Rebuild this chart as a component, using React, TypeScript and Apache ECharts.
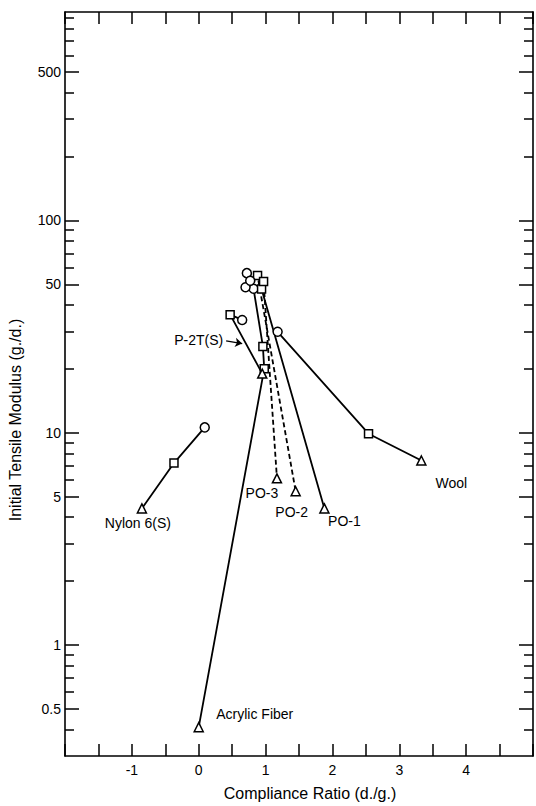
import { useEffect, useRef } from 'react';
import * as echarts from 'echarts';

// ---- data ----
const nylonX = [0.09, -0.37, -0.85];
const nylonY = [10.6, 7.2, 4.4];
const nylonMarks = ['circle', 'rect', 'triangle'];

const acrylicX = [0.82, 0.96, 0.98, 0];
const acrylicY = [47.7, 25.5, 20, 0.41];
const acrylicMarks = ['circle', 'rect', 'rect', 'triangle'];

const p2tX = [0.65, 0.47, 0.95];
const p2tY = [34, 36, 19];
const p2tMarks = ['circle', 'rect', 'triangle'];

const po1X = [0.7, 0.94, 1.88];
const po1Y = [48.5, 47.5, 4.4];
const po2X = [0.72, 0.88, 1.45];
const po2Y = [56.5, 55, 5.3];
const po3X = [0.77, 0.97, 1.17];
const po3Y = [52, 51.6, 6.1];
const poMarks = ['circle', 'rect', 'triangle'];

const woolX = [1.18, 2.54, 3.33];
const woolY = [29.9, 9.9, 7.4];
const woolMarks = ['circle', 'rect', 'triangle'];

const xTickLabels = [-1, 0, 1, 2, 3, 4];
const yTickLabels = [0.5, 1, 5, 10, 50, 100, 500];
const yMinorTicks = [0.4, 0.6, 0.7, 0.8, 0.9, 2, 3, 4, 6, 7, 8, 9, 20, 30, 40, 60, 70, 80, 90, 200, 300, 400, 600, 700, 800, 900];
const p2tArrowFrom = [0.41, 27.1];
const p2tArrowTo = [0.65, 26.3];

const X_MIN = -2;
const X_MAX = 5;
const Y_MIN = 0.3;
const Y_MAX = 960;

const FONT = 'Liberation Sans, Arial, sans-serif';

type Fiber = {
  name: string;
  xs: number[];
  ys: number[];
  marks: string[];
  dashed: boolean;
  labelIndex: number;
  labelOffset: [number, number] | null;
};

const fibers: Fiber[] = [
  { name: 'Nylon 6(S)', xs: nylonX, ys: nylonY, marks: nylonMarks, dashed: false, labelIndex: 2, labelOffset: [-4, 15] },
  { name: 'Acrylic Fiber', xs: acrylicX, ys: acrylicY, marks: acrylicMarks, dashed: false, labelIndex: 3, labelOffset: [56, -13] },
  { name: 'P-2T(S)', xs: p2tX, ys: p2tY, marks: p2tMarks, dashed: false, labelIndex: -1, labelOffset: null },
  { name: 'PO-1', xs: po1X, ys: po1Y, marks: poMarks, dashed: false, labelIndex: 2, labelOffset: [20, 13] },
  { name: 'PO-2', xs: po2X, ys: po2Y, marks: poMarks, dashed: true, labelIndex: 2, labelOffset: [-4, 21] },
  { name: 'PO-3', xs: po3X, ys: po3Y, marks: poMarks, dashed: true, labelIndex: 2, labelOffset: [-15, 15] },
  { name: 'Wool', xs: woolX, ys: woolY, marks: woolMarks, dashed: false, labelIndex: 2, labelOffset: [30, 22] },
];

const log10 = (v: number) => Math.log(v) / Math.LN10;

function buildOption(): echarts.EChartsCoreOption {
  const series: any[] = [];
  fibers.forEach((f) => {
    const line: any = {
      type: 'line',
      name: f.name + ' line',
      xAxisIndex: 0,
      yAxisIndex: 0,
      z: 2,
      showSymbol: false,
      symbol: 'none',
      silent: true,
      lineStyle: { color: '#000', width: 1.8, type: f.dashed ? [5, 3] : 'solid' },
      data: f.xs.map((x, i) => [x, f.ys[i]]),
    };
    if (f.name === 'P-2T(S)') {
      line.markLine = {
        silent: true,
        symbol: ['none', 'arrow'],
        symbolSize: 7,
        lineStyle: { color: '#000', width: 1.3, type: 'solid' },
        label: {
          show: true,
          position: 'start',
          formatter: 'P-2T(S)',
          color: '#000',
          fontSize: 14,
          fontFamily: FONT,
          distance: 3,
        },
        data: [[{ coord: p2tArrowFrom }, { coord: p2tArrowTo }]],
      };
    }
    series.push(line);
    series.push({
      type: 'scatter',
      name: f.name,
      xAxisIndex: 0,
      yAxisIndex: 0,
      z: 3,
      symbolSize: 9,
      itemStyle: { color: '#fff', borderColor: '#000', borderWidth: 1.5, opacity: 1 },
      data: f.xs.map((x, i) => {
        const item: any = { value: [x, f.ys[i]], symbol: f.marks[i] };
        if (f.marks[i] === 'rect') item.symbolSize = 8;
        if (i === f.labelIndex && f.labelOffset) {
          item.label = {
            show: true,
            formatter: f.name,
            position: 'inside',
            offset: f.labelOffset,
            color: '#000',
            fontSize: 14,
            fontFamily: FONT,
          };
        }
        return item;
      }),
    });
  });

  const axisLine = { show: true, onZero: false, lineStyle: { color: '#000', width: 1.6 } };
  const noLine = { show: false, onZero: false };
  const logMin = log10(Y_MIN);
  const logMax = log10(Y_MAX);
  const majorVals = yTickLabels.map(log10);
  const minorVals = yMinorTicks.map(log10);

  const tickAxis = (position: 'left' | 'right', vals: number[], len: number, withLabels: boolean, showLine: boolean) => ({
    type: 'value',
    position,
    min: logMin,
    max: logMax,
    axisLine: showLine ? axisLine : noLine,
    axisTick: { show: true, inside: true, length: len, customValues: vals, lineStyle: { color: '#000', width: 1.5 } },
    axisLabel: withLabels
      ? {
          show: true,
          customValues: vals,
          margin: 4,
          color: '#000',
          fontSize: 14,
          fontFamily: FONT,
          formatter: (v: number) => String(+Math.pow(10, v).toPrecision(3)),
        }
      : { show: false },
    splitLine: { show: false },
  });

  const xAxisBase = (position: 'bottom' | 'top', labels: boolean) => ({
    type: 'value',
    position,
    min: X_MIN,
    max: X_MAX,
    interval: 0.5,
    axisLine,
    axisTick: { show: true, inside: true, length: 12, lineStyle: { color: '#000', width: 1.5 } },
    axisLabel: labels
      ? {
          show: true,
          margin: 7,
          color: '#000',
          fontSize: 14,
          fontFamily: FONT,
          showMinLabel: true,
          showMaxLabel: true,
          formatter: (v: number) => (xTickLabels.includes(v) ? String(v) : ''),
        }
      : { show: false },
    splitLine: { show: false },
  });

  return {
    animation: false,
    backgroundColor: '#fff',
    grid: { left: 65, top: 12, width: 475, height: 745, containLabel: false },
    xAxis: [
      {
        ...xAxisBase('bottom', true),
        name: 'Compliance Ratio (d./g.)',
        nameLocation: 'middle',
        nameGap: 29,
        nameTextStyle: { color: '#000', fontSize: 16, fontFamily: FONT, padding: [0, 0, 0, 22] },
      },
      xAxisBase('top', false),
    ],
    yAxis: [
      { type: 'log', logBase: 10, min: Y_MIN, max: Y_MAX, show: false, axisLine: noLine },
      tickAxis('left', majorVals, 14, true, true),
      tickAxis('left', minorVals, 9, false, false),
      tickAxis('right', majorVals, 14, false, true),
      tickAxis('right', minorVals, 9, false, false),
    ],
    graphic: [
      {
        type: 'text',
        x: 15,
        y: 420,
        rotation: Math.PI / 2,
        style: {
          text: 'Initial Tensile Modulus (g./d.)',
          fill: '#000',
          fontSize: 16,
          fontFamily: FONT,
          align: 'center',
          verticalAlign: 'middle',
          textAlign: 'center',
          textVerticalAlign: 'middle',
        },
      },
    ],
    series,
  };
}

export default function App() {
  const ref = useRef<HTMLDivElement>(null);
  useEffect(() => {
    if (!ref.current) return;
    const chart = echarts.init(ref.current, undefined, { renderer: 'svg' });
    chart.setOption(buildOption());
    return () => chart.dispose();
  }, []);
  return (
    <div
      ref={ref}
      style={{ position: 'absolute', left: 0, top: 0, width: 536, height: 806, background: '#fff' }}
    />
  );
}
